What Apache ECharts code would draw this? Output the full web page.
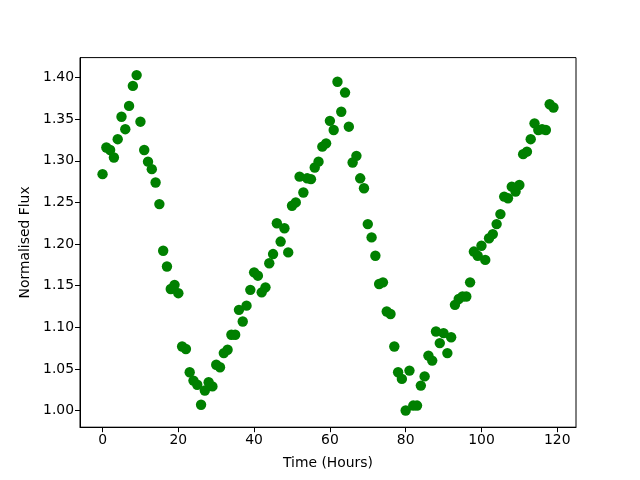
<!DOCTYPE html>
<html>
<head>
<meta charset="utf-8">
<script src="https://cdn.jsdelivr.net/npm/echarts@6/dist/echarts.min.js"></script>
<style>
  html, body { margin: 0; padding: 0; background: #fff; }
  #chart { width: 640px; height: 480px; }
</style>
</head>
<body>
<div id="chart"></div>
<script>
// data: hourly samples 0..119
const hours = []
for (let h = 0; h < 120; h++) hours.push(h)

const flux = [
  1.284, 1.316, 1.313, 1.304, 1.326, 1.353, 1.338, 1.366, 1.390, 1.403,
  1.347, 1.313, 1.299, 1.290, 1.274, 1.248, 1.192, 1.173, 1.146, 1.151,
  1.141, 1.077, 1.074, 1.046, 1.036, 1.031, 1.007, 1.024, 1.034, 1.029,
  1.055, 1.052, 1.069, 1.073, 1.091, 1.091, 1.121, 1.107, 1.126, 1.145,
  1.166, 1.162, 1.142, 1.148, 1.177, 1.188, 1.225, 1.203, 1.219, 1.190,
  1.246, 1.250, 1.281, 1.262, 1.279, 1.278, 1.292, 1.299, 1.317, 1.321,
  1.348, 1.337, 1.395, 1.359, 1.382, 1.341, 1.298, 1.306, 1.279, 1.267,
  1.224, 1.208, 1.186, 1.152, 1.154, 1.119, 1.116, 1.077, 1.046, 1.038,
  1.000, 1.048, 1.006, 1.006, 1.030, 1.041, 1.066, 1.060, 1.095, 1.081,
  1.093, 1.069, 1.088, 1.127, 1.134, 1.137, 1.137, 1.154, 1.191, 1.186,
  1.198, 1.181, 1.207, 1.212, 1.224, 1.236, 1.257, 1.255, 1.269, 1.263,
  1.271, 1.308, 1.311, 1.326, 1.345, 1.337, 1.338, 1.337, 1.368, 1.364
]

const xTicks = [0, 20, 40, 60, 80, 100, 120]
const yTicks = [1.00, 1.05, 1.10, 1.15, 1.20, 1.25, 1.30, 1.35, 1.40]

const chartInstance = echarts.init(document.getElementById('chart'))

const font = 'DejaVu Sans'

const option = {
  animation: false,
  grid: {
    left: 80,
    right: 64,
    top: 57.6,
    bottom: 52.8,
    show: true,
    borderColor: '#000',
    borderWidth: 1,
    backgroundColor: 'transparent'
  },
  xAxis: {
    type: 'value',
    min: -5.95,
    max: 124.95,
    name: 'Time (Hours)',
    nameLocation: 'middle',
    nameGap: 29,
    nameTextStyle: { color: '#000', fontSize: 13.9, fontFamily: font },
    axisLine: { show: true, onZero: false, lineStyle: { color: '#000', width: 1 } },
    axisTick: { show: true, inside: false, length: 5, customValues: xTicks, lineStyle: { color: '#000' } },
    axisLabel: {
      color: '#000', fontSize: 13.9, fontFamily: font, margin: 6,
      customValues: xTicks,
      formatter: v => String(v)
    },
    splitLine: { show: false }
  },
  yAxis: {
    type: 'value',
    min: 0.98,
    max: 1.424,
    name: 'Normalised Flux',
    nameLocation: 'middle',
    nameGap: 48,
    nameTextStyle: { color: '#000', fontSize: 13.9, fontFamily: font },
    axisLine: { show: true, onZero: false, lineStyle: { color: '#000', width: 1 } },
    axisTick: { show: true, inside: false, length: 5, customValues: yTicks, lineStyle: { color: '#000' } },
    axisLabel: {
      color: '#000', fontSize: 13.9, fontFamily: font, margin: 6,
      customValues: yTicks,
      formatter: v => v.toFixed(2)
    },
    splitLine: { show: false }
  },
  series: [
    {
      type: 'scatter',
      data: hours.map((h, i) => [h, flux[i]]),
      symbol: 'circle',
      symbolSize: 10.4,
      itemStyle: { color: '#008000', opacity: 1 }
    }
  ]
}
chartInstance.setOption(option)
</script>
</body>
</html>
